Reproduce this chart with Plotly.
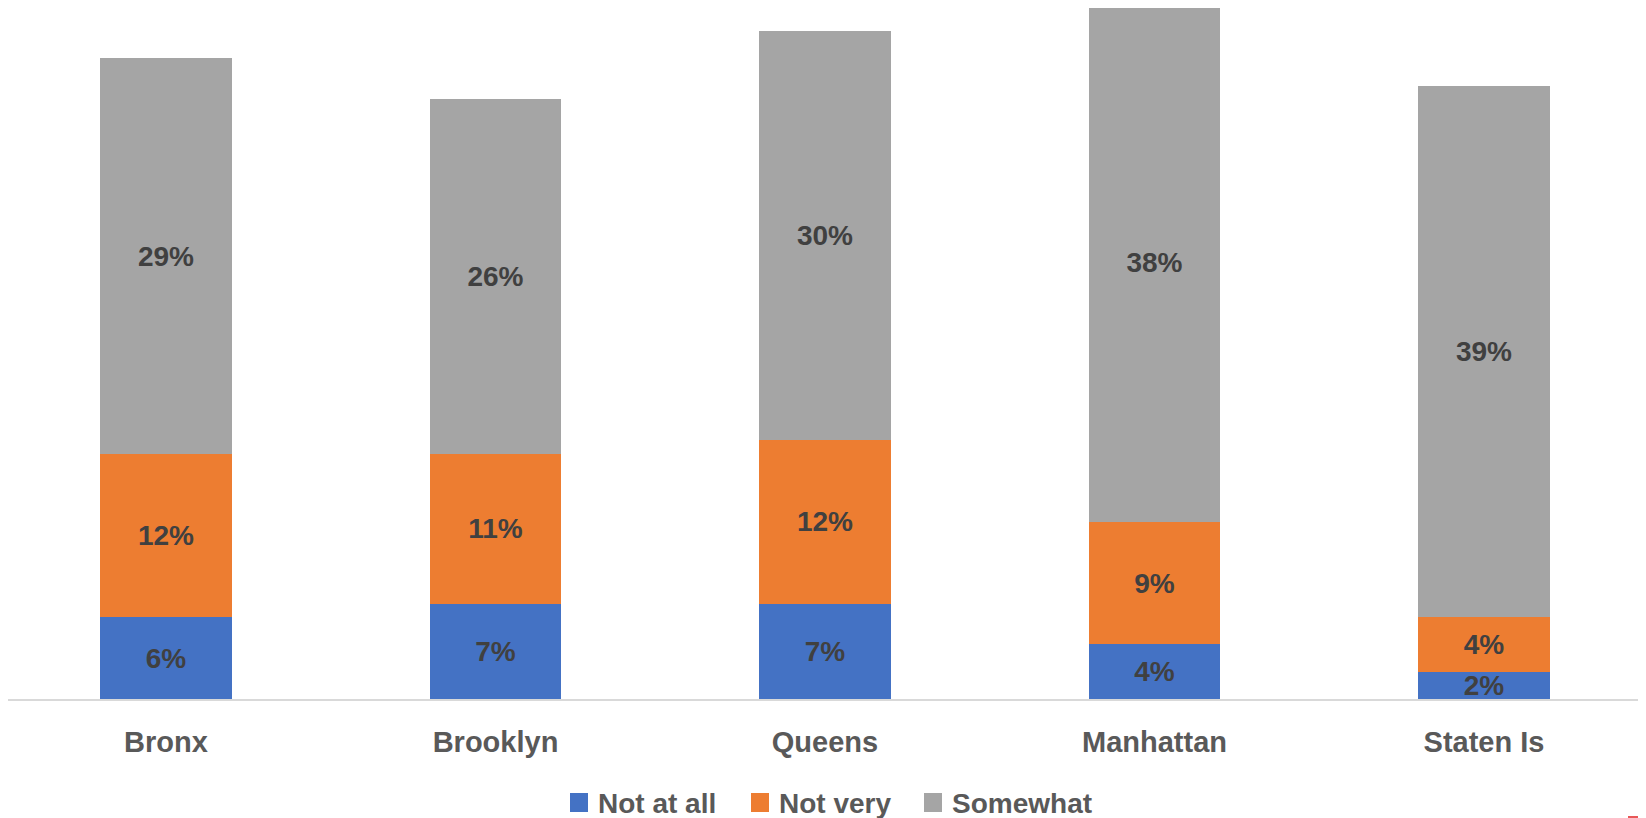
import plotly.graph_objects as go

boroughs = ["Bronx", "Brooklyn", "Queens", "Manhattan", "Staten Is"]
not_at_all = [6, 7, 7, 4, 2]
not_very = [12, 11, 12, 9, 4]
somewhat = [29, 26, 30, 38, 39]

series_names = ["Not at all", "Not very", "Somewhat"]
series_values = [not_at_all, not_very, somewhat]
series_colors = ["#4472C4", "#ED7D31", "#A5A5A5"]

FONT = "Liberation Sans"
W, H = 1638, 810          # page has an 8px body margin
PLOT_H = 691              # plot area height (t=0)
B = H - PLOT_H


def px(fx):
    return fx / W


def py(fy):
    return (PLOT_H - fy) / PLOT_H


fig = go.Figure()
for name, vals, color in zip(series_names, series_values, series_colors):
    fig.add_trace(go.Bar(
        x=boroughs, y=vals, name=name,
        marker=dict(color=color, line=dict(width=0)),
        texttemplate="%{y:.0f}%",
        textposition="inside",
        insidetextanchor="middle",
        constraintext="none",
        textangle=0,
        textfont=dict(family=FONT, size=28, color="#404040", weight="bold"),
        hoverinfo="skip",
        showlegend=False,
    ))

# custom legend (square swatch + label), positioned like the original
legend_sq_x = [562, 743, 916]
legend_tx_x = [588, 769, 942]
shapes = []
annotations = []
for name, color, sx, tx in zip(series_names, series_colors, legend_sq_x, legend_tx_x):
    shapes.append(dict(type="rect", xref="paper", yref="paper",
                       x0=px(sx), x1=px(sx + 18), y0=py(785), y1=py(804),
                       fillcolor=color, line=dict(width=0)))
    annotations.append(dict(xref="paper", yref="paper", x=px(tx), y=py(795),
                            xanchor="left", yanchor="middle", showarrow=False,
                            text=name,
                            font=dict(family=FONT, size=28, color="#595959", weight="bold")))

shapes.append(dict(type="line", xref="paper", yref="paper",
                   x0=px(1620), x1=1.0, y0=py(809), y1=py(809),
                   line=dict(color="#E02020", width=1.5)))

r0 = -158 / 329.5
r1 = r0 + W / 329.5

fig.update_layout(
    barmode="stack",
    bargap=0.6,
    width=W, height=H,
    margin=dict(l=0, r=0, t=0, b=B, autoexpand=False),
    paper_bgcolor="white", plot_bgcolor="white",
    showlegend=False,
    xaxis=dict(
        range=[r0, r1], automargin=False,
        showline=True, linecolor="#D9D9D9", linewidth=2,
        showgrid=False, zeroline=False,
        ticks="outside", ticklen=16, tickcolor="rgba(0,0,0,0)",
        tickfont=dict(family=FONT, size=29, color="#595959", weight="bold"),
    ),
    yaxis=dict(
        range=[0, PLOT_H / 13.63], visible=False, showgrid=False, zeroline=False,
        automargin=False,
    ),
    shapes=shapes,
    annotations=annotations,
)

fig.write_html("out.html")
